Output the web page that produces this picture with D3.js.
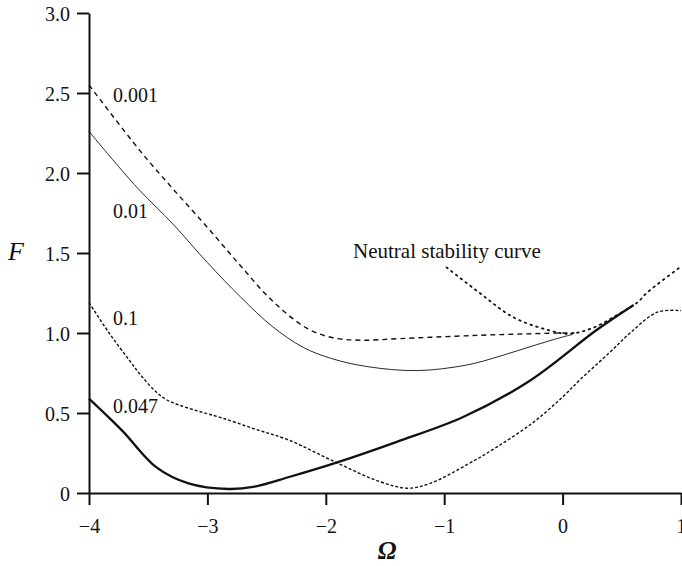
<!DOCTYPE html>
<html>
<head>
<meta charset="utf-8">
<script src="https://cdn.jsdelivr.net/npm/d3@7"></script>
<style>
  body { margin: 0; background: #fff; }
  svg { display: block; }
  text { font-family: "Liberation Serif", "Times New Roman", serif; fill: #111; }
</style>
</head>
<body>
<svg id="chart"></svg>
<script>
// Curve data (Omega vs F)
const omega001 = [-4, -3.57, -3.29, -3.0, -2.72, -2.45, -2.16, -1.94, -1.7, -1.37, -0.9, -0.53, 0.0, 0.1];
const f001     = [2.55, 2.14, 1.90, 1.66, 1.42, 1.20, 1.03, 0.97, 0.955, 0.965, 0.98, 0.99, 1.0, 1.0];

const omega01 = [-4, -3.75, -3.57, -3.29, -3.0, -2.72, -2.45, -2.19, -1.95, -1.65, -1.23, -0.81, -0.53, -0.25, 0.0, 0.08];
const f01     = [2.26, 2.04, 1.89, 1.68, 1.44, 1.225, 1.04, 0.91, 0.84, 0.79, 0.765, 0.80, 0.855, 0.92, 0.975, 0.99];

const omega1 = [-4, -3.83, -3.66, -3.55, -3.43, -3.35, -3.24, -3.07, -2.88, -2.6, -2.31, -1.91, -1.54, -1.31, -1.12, -0.8, -0.55, -0.25, 0.0, 0.15, 0.4, 0.57, 0.8, 1.0];
const f1     = [1.19, 1.0, 0.83, 0.725, 0.63, 0.585, 0.55, 0.51, 0.47, 0.40, 0.33, 0.19, 0.07, 0.03, 0.06, 0.18, 0.29, 0.44, 0.60, 0.71, 0.88, 1.0, 1.13, 1.14];

const omega047 = [-4, -3.72, -3.43, -3.16, -2.82, -2.6, -2.31, -1.91, -1.4, -0.84, -0.28, 0.29, 0.6];
const f047     = [0.59, 0.39, 0.16, 0.06, 0.025, 0.04, 0.10, 0.19, 0.32, 0.475, 0.70, 1.02, 1.175];

const omegaN = [-0.98, -0.7, -0.42, -0.13, 0.05, 0.25, 0.43, 0.63, 0.71, 0.99];
const fN     = [1.41, 1.25, 1.10, 1.02, 0.995, 1.03, 1.10, 1.19, 1.25, 1.41];

const xTicks = [-4, -3, -2, -1, 0, 1];
const xTickLabels = ["\u22124", "\u22123", "\u22122", "\u22121", "0", "1"];
const yTicks = [0, 0.5, 1.0, 1.5, 2.0, 2.5, 3.0];
const yTickLabels = ["0", "0.5", "1.0", "1.5", "2.0", "2.5", "3.0"];

const width = 682, height = 566;

const svg = d3.select("#chart")
    .attr("width", width)
    .attr("height", height);

const x = d3.scaleLinear().domain([-4, 1]).range([89, 681]);
const y = d3.scaleLinear().domain([0, 3]).range([493, 13]);

// Axes
const xAxis = svg.append("g")
    .attr("transform", `translate(0,${y(0)})`)
    .call(d3.axisBottom(x).tickValues(xTicks).tickSize(12).tickSizeOuter(0)
        .tickFormat((d, i) => xTickLabels[i]));
const yAxis = svg.append("g")
    .attr("transform", `translate(${x(-4)},0)`)
    .call(d3.axisLeft(y).tickValues(yTicks).tickSize(12).tickSizeOuter(0)
        .tickFormat((d, i) => yTickLabels[i]));

[xAxis, yAxis].forEach(g => {
  g.select(".domain").attr("stroke", "#111").attr("stroke-width", 2);
  g.selectAll(".tick line").attr("stroke", "#111").attr("stroke-width", 2);
  g.selectAll(".tick text")
      .style("font-family", "'Liberation Serif', serif")
      .style("font-size", "20px")
      .attr("fill", "#111");
});
xAxis.selectAll(".tick text").attr("y", 26);
yAxis.selectAll(".tick text").attr("x", -19).attr("dy", "0.35em");

// Axis titles
svg.append("text")
    .attr("x", 387).attr("y", 559)
    .attr("text-anchor", "middle")
    .style("font-size", "25px")
    .style("font-style", "italic")
    .style("font-weight", "bold")
    .text("\u03A9");
svg.append("text")
    .attr("x", 16).attr("y", 260)
    .attr("text-anchor", "middle")
    .style("font-size", "26px")
    .style("font-style", "italic")
    .text("F");

// Lines
const line = d3.line()
    .x(d => x(d[0]))
    .y(d => y(d[1]))
    .curve(d3.curveCatmullRom.alpha(0.5));

const series = [
  { xs: omegaN,   ys: fN,   width: 1.8, dash: "1.5,4.5", cap: "round" },
  { xs: omega001, ys: f001, width: 1.4, dash: "5,4",     cap: "butt" },
  { xs: omega01,  ys: f01,  width: 0.9, dash: null,      cap: "butt" },
  { xs: omega1,   ys: f1,   width: 1.4, dash: "3,2",     cap: "butt" },
  { xs: omega047, ys: f047, width: 2.3, dash: null,      cap: "butt" }
];

svg.selectAll(".curve")
    .data(series)
  .enter().append("path")
    .attr("class", "curve")
    .attr("d", s => line(d3.zip(s.xs, s.ys)))
    .attr("fill", "none")
    .attr("stroke", "#111")
    .attr("stroke-width", s => s.width)
    .attr("stroke-dasharray", s => s.dash)
    .attr("stroke-linecap", s => s.cap);

// Curve labels
const labels = [
  { t: "0.001", x: 113, y: 102, size: 20 },
  { t: "0.01",  x: 113, y: 218, size: 20 },
  { t: "0.1",   x: 113, y: 325, size: 20 },
  { t: "0.047", x: 113, y: 413, size: 20 },
  { t: "Neutral stability curve", x: 353, y: 258, size: 21 }
];
svg.selectAll(".lbl")
    .data(labels)
  .enter().append("text")
    .attr("class", "lbl")
    .attr("x", d => d.x)
    .attr("y", d => d.y)
    .style("font-size", d => d.size + "px")
    .text(d => d.t);
</script>
</body>
</html>
